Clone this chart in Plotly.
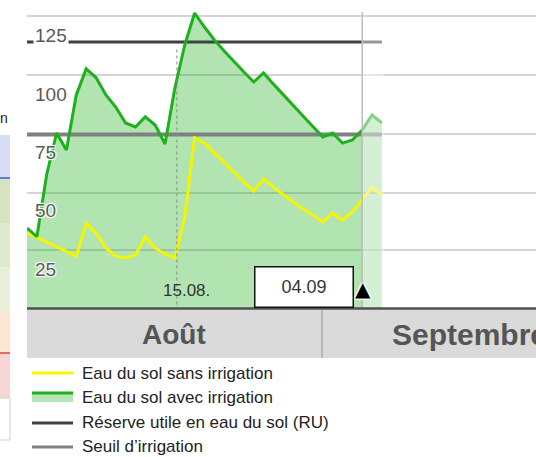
import plotly.graph_objects as go

# ---------------- data ----------------
days = [f"{d:02d}.08" for d in range(1, 32)] + [f"{d:02d}.09" for d in range(1, 7)]
day_index = list(range(len(days)))

eau_avec_irrigation = [45.5, 41.8, 68.4, 86.1, 78.8, 102.4, 113.5, 109.8, 102.4, 97.2,
                       90.4, 88.7, 93.0, 89.5, 81.4, 105.3, 123.7, 137.4, 131.4, 125.9,
                       121.2, 116.5, 112.2, 107.9, 111.8, 107.0, 102.6, 98.0, 93.4, 88.9,
                       84.4, 86.1, 81.8, 83.1, 87.4, 93.8, 90.4]
eau_sans_irrigation = [43.4, 41.4, 39.5, 37.4, 35.5, 33.5, 47.6, 43.4, 37.0, 33.5,
                       32.7, 34.0, 41.7, 37.0, 34.4, 32.7, 50.2, 84.0, 81.8, 77.6,
                       73.3, 69.0, 65.2, 61.3, 66.5, 63.0, 59.6, 56.6, 53.6, 51.0,
                       48.0, 51.9, 48.9, 52.4, 57.5, 63.0, 59.6]
reserve_utile = 125
seuil_irrigation = 85.5

y_tick_labels = [125, 100, 75, 50, 25]
grid_values = [36.2, 60.5, 85.5, 111.0, 136.1]
months = ["Août", "Septembre"]
legend_labels = ["Eau du sol sans irrigation", "Eau du sol avec irrigation",
                 "Réserve utile en eau du sol (RU)", "Seuil d’irrigation"]
marker_day_label = "15.08."
marker_day_pos = 15.2
today_label = "04.09"
today_pos = 34
last = len(days) - 1

# ---------------- layout helpers (page pixels -> paper) ----------------
W, H = 536, 457
L, T, B = 27, 0, 149
PW, PH = W - L, H - T - B


def px(x):
    return (x - L) / PW


def py(y):
    return (T + PH - y) / PH


FONT = "Liberation Sans, Arial, sans-serif"
HALO = "1px 1px 1px white, -1px -1px 1px white, 1px -1px 1px white, -1px 1px 1px white"

YELLOW = "#f5f500"
GREEN = "#1fb01f"
FILL = "rgba(40,180,40,0.36)"
DARK = "#404040"
GREY = "#808080"

fig = go.Figure()
fig.add_trace(go.Scatter(x=day_index, y=eau_avec_irrigation, mode="lines", line=dict(width=0),
                         fill="tozeroy", fillcolor=FILL, hoverinfo="skip"))
fig.add_trace(go.Scatter(x=[0, last], y=[reserve_utile] * 2, mode="lines",
                         line=dict(color=DARK, width=3), name=legend_labels[2]))
fig.add_trace(go.Scatter(x=[0, last], y=[seuil_irrigation] * 2, mode="lines",
                         line=dict(color=GREY, width=4), name=legend_labels[3]))
fig.add_trace(go.Scatter(x=day_index, y=eau_sans_irrigation, mode="lines", customdata=days,
                         line=dict(color=YELLOW, width=3), name=legend_labels[0],
                         hovertemplate="%{customdata}: %{y}<extra></extra>"))
fig.add_trace(go.Scatter(x=day_index, y=eau_avec_irrigation, mode="lines", customdata=days,
                         line=dict(color=GREEN, width=3), name=legend_labels[1],
                         hovertemplate="%{customdata}: %{y}<extra></extra>"))

shapes = []
annotations = []

# forecast overlay (lighter part after today)
shapes.append(dict(type="rect", xref="x", yref="y", x0=today_pos, x1=last + 0.15,
                   y0=0, y1=127.5, fillcolor="white", opacity=0.45, line=dict(width=0),
                   layer="above"))
# today vertical line
shapes.append(dict(type="line", xref="x", yref="y", x0=today_pos, x1=today_pos,
                   y0=0, y1=137.8, line=dict(color="#bdbdbd", width=1.5), layer="above"))
# 15.08 dotted line
shapes.append(dict(type="line", xref="x", yref="y", x0=marker_day_pos, x1=marker_day_pos,
                   y0=0, y1=122.9, line=dict(color="#8a8a8a", width=1, dash="dot"),
                   layer="above"))

# month header band
shapes.append(dict(type="rect", xref="paper", yref="paper", x0=px(27), x1=px(536),
                   y0=py(358), y1=py(309), fillcolor="#dadada", line=dict(width=0)))
shapes.append(dict(type="line", xref="paper", yref="paper", x0=px(27), x1=px(536),
                   y0=py(308.5), y1=py(308.5), line=dict(color="#505050", width=2.5)))
shapes.append(dict(type="line", xref="paper", yref="paper", x0=px(322), x1=px(322),
                   y0=py(358), y1=py(310), line=dict(color="#a8a8a8", width=1.5)))
annotations.append(dict(xref="paper", yref="paper", x=px(173.5), y=py(335), text=months[0],
                        showarrow=False, xanchor="center", yanchor="middle",
                        font=dict(family=FONT, size=28, color="#555555", weight="bold")))
annotations.append(dict(xref="paper", yref="paper", x=px(390), y=py(335), text=months[1],
                        showarrow=False, xanchor="left", yanchor="middle",
                        font=dict(family=FONT, size=30, color="#555555", weight="bold")))

# y labels
for v in y_tick_labels:
    a = dict(xref="paper", yref="y", x=px(33), y=v, yshift=6.5, text=str(v), showarrow=False,
             xanchor="left", yanchor="middle",
             font=dict(family=FONT, size=19, color="#595959", shadow=HALO))
    if v == reserve_utile:
        a.update(bgcolor="white", borderpad=1)
    annotations.append(a)

# 15.08. label
annotations.append(dict(xref="paper", yref="paper", x=px(186.5), y=py(290), text=marker_day_label,
                        showarrow=False, xanchor="center", yanchor="middle",
                        font=dict(family=FONT, size=17, color="#333333")))
# today box
annotations.append(dict(xref="paper", yref="paper", x=px(303.5), y=py(286.5), text=today_label,
                        showarrow=False, xanchor="center", yanchor="middle", width=97, height=39,
                        bgcolor="white", bordercolor="#111111", borderwidth=1.5, borderpad=0,
                        font=dict(family=FONT, size=18, color="#333333")))
# triangle
annotations.append(dict(xref="paper", yref="paper", x=px(363), y=py(289), text="▲",
                        showarrow=False, xanchor="center", yanchor="middle",
                        font=dict(family="DejaVu Sans, sans-serif", size=20, color="black",
                                  shadow=HALO)))

# legend (manual)
leg_y = [373.5, 397.5, 422.5, 446.5]
shapes.append(dict(type="line", xref="paper", yref="paper", x0=px(32), x1=px(73),
                   y0=py(373), y1=py(373), line=dict(color=YELLOW, width=3)))
shapes.append(dict(type="rect", xref="paper", yref="paper", x0=px(32), x1=px(73),
                   y0=py(402), y1=py(394), fillcolor="#b5e6b5", line=dict(width=0)))
shapes.append(dict(type="line", xref="paper", yref="paper", x0=px(32), x1=px(73),
                   y0=py(393), y1=py(393), line=dict(color=GREEN, width=3)))
shapes.append(dict(type="line", xref="paper", yref="paper", x0=px(32), x1=px(73),
                   y0=py(423), y1=py(423), line=dict(color=DARK, width=3)))
shapes.append(dict(type="line", xref="paper", yref="paper", x0=px(32), x1=px(73),
                   y0=py(447), y1=py(447), line=dict(color=GREY, width=3)))
for lab, yy in zip(legend_labels, leg_y):
    annotations.append(dict(xref="paper", yref="paper", x=px(80), y=py(yy), text=lab,
                            showarrow=False, xanchor="left", yanchor="middle",
                            font=dict(family=FONT, size=17, color="#222222")))

# left sliver of a neighbouring table
bands = [(135, 178, "#d6ddf5"), (178, 223, "#d5e3c1"), (223, 267, "#dfeacd"),
         (267, 310, "#e8f0da"), (310, 353, "#fbe6d4"), (353, 398, "#f8d5d5"),
         (398, 440, "white")]
for y0, y1, c in bands:
    shapes.append(dict(type="rect", xref="paper", yref="paper", x0=px(-2), x1=px(10),
                       y0=py(y1), y1=py(y0), fillcolor=c, line=dict(width=0)))
shapes.append(dict(type="line", xref="paper", yref="paper", x0=px(-2), x1=px(10),
                   y0=py(178), y1=py(178), line=dict(color="#3a5ad0", width=1.5)))
shapes.append(dict(type="line", xref="paper", yref="paper", x0=px(-2), x1=px(10),
                   y0=py(353), y1=py(353), line=dict(color="#e04040", width=1.5)))
for yy in (398, 440):
    shapes.append(dict(type="line", xref="paper", yref="paper", x0=px(-2), x1=px(10),
                       y0=py(yy), y1=py(yy), line=dict(color="#d0d0d0", width=1)))
shapes.append(dict(type="line", xref="paper", yref="paper", x0=px(10), x1=px(10),
                   y0=py(440), y1=py(398), line=dict(color="#d0d0d0", width=1)))
annotations.append(dict(xref="paper", yref="paper", x=px(9.5), y=py(118), text="ion",
                        showarrow=False, xanchor="right", yanchor="middle",
                        font=dict(family=FONT, size=14, color="#222222")))

fig.update_layout(
    width=W, height=H, margin=dict(l=L, r=0, t=T, b=B, pad=0),
    plot_bgcolor="white", paper_bgcolor="white", showlegend=False,
    xaxis=dict(range=[0, 51.63], showgrid=False, zeroline=False, showticklabels=False,
               ticks="", showline=False, fixedrange=True),
    yaxis=dict(range=[11.32, 142.95], tickvals=grid_values, showticklabels=False, ticks="",
               gridcolor="#d4d4d4", gridwidth=1.5, zeroline=False, showline=False,
               fixedrange=True),
    shapes=shapes, annotations=annotations,
)

fig.write_html("out.html", config={"displayModeBar": False},
               post_script="document.body.style.margin='0';document.body.style.overflow='hidden';")
